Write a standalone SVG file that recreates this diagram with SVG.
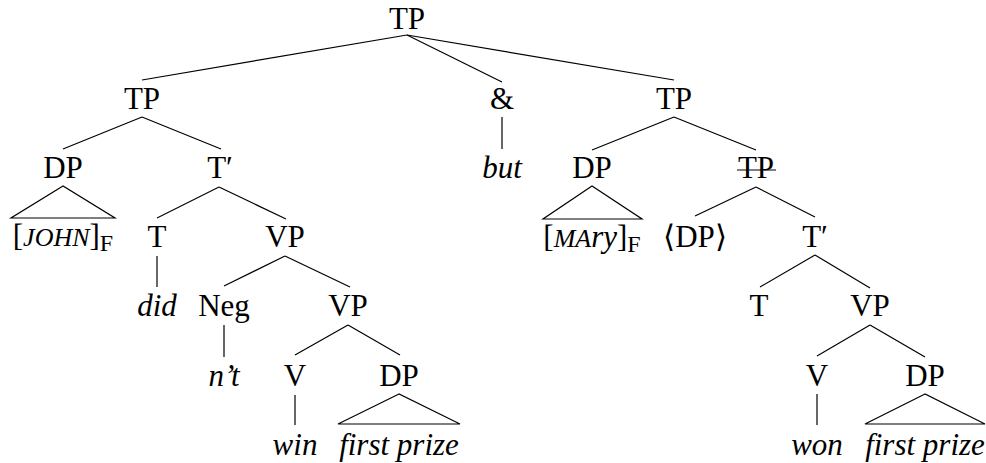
<svg xmlns="http://www.w3.org/2000/svg" width="986" height="463" viewBox="0 0 986 463">
<rect width="986" height="463" fill="#fff"/>
<g id="connectors" stroke="#000" stroke-width="1.2" fill="none">
<line x1="407" y1="35" x2="142" y2="80"/>
<line x1="407" y1="35" x2="502" y2="82"/>
<line x1="407" y1="35" x2="674" y2="80"/>
<line x1="142" y1="117" x2="63" y2="149"/>
<line x1="142" y1="117" x2="221" y2="149"/>
<line x1="502" y1="117" x2="502" y2="149"/>
<line x1="674" y1="117" x2="592" y2="150"/>
<line x1="674" y1="117" x2="756" y2="150"/>
<polygon points="63,186 11,218 115,218"/>
<line x1="219" y1="187" x2="157" y2="218"/>
<line x1="219" y1="187" x2="286" y2="219"/>
<polygon points="592,186 543,219 642,219"/>
<line x1="756" y1="187" x2="695" y2="216"/>
<line x1="756" y1="187" x2="815" y2="217"/>
<line x1="157" y1="256" x2="157" y2="287"/>
<line x1="285" y1="256" x2="224" y2="286"/>
<line x1="285" y1="256" x2="350" y2="287"/>
<line x1="815" y1="255" x2="760" y2="287"/>
<line x1="815" y1="255" x2="870" y2="288"/>
<line x1="224" y1="325" x2="224" y2="357"/>
<line x1="348" y1="325" x2="295" y2="355"/>
<line x1="348" y1="325" x2="400" y2="355"/>
<line x1="870" y1="325" x2="817" y2="356"/>
<line x1="870" y1="325" x2="925" y2="357"/>
<line x1="295" y1="395" x2="295" y2="425"/>
<polygon points="399,394 338,424 460,424"/>
<line x1="817" y1="394" x2="817" y2="425"/>
<polygon points="925,394 865,424 985,424"/>
</g>
<g id="n-tp0"><text x="407" y="29" font-family="Liberation Serif" font-size="31" text-anchor="middle">TP</text></g>
<g id="n-tp1"><text x="142" y="109" font-family="Liberation Serif" font-size="31" text-anchor="middle">TP</text></g>
<g id="n-amp"><text x="502" y="109" font-family="Liberation Serif" font-size="31" text-anchor="middle">&amp;</text></g>
<g id="n-tp2"><text x="674" y="109" font-family="Liberation Serif" font-size="31" text-anchor="middle">TP</text></g>
<g id="n-dp1"><text x="63" y="178" font-family="Liberation Serif" font-size="31" text-anchor="middle">DP</text></g>
<g id="n-tbar1"><text x="220" y="178" font-family="Liberation Serif" font-size="31" text-anchor="middle">T′</text></g>
<g id="n-but"><text x="502" y="178" font-family="Liberation Serif" font-size="31" font-style="italic" text-anchor="middle">but</text></g>
<g id="n-dp2"><text x="592" y="178" font-family="Liberation Serif" font-size="31" text-anchor="middle">DP</text></g>
<g id="n-tp3"><text x="756" y="178" font-family="Liberation Serif" font-size="31" text-anchor="middle">TP</text><line x1="737" y1="170" x2="776" y2="170" stroke="#000" stroke-width="1.2"/></g>
<g id="n-john"><text x="63" y="246" font-family="Liberation Serif" font-size="31" text-anchor="middle">[<tspan font-size="26" font-style="italic">JOHN</tspan>]<tspan font-size="24" dy="5">F</tspan></text></g>
<g id="n-t1"><text x="157" y="247" font-family="Liberation Serif" font-size="31" text-anchor="middle">T</text></g>
<g id="n-vp1"><text x="285" y="247" font-family="Liberation Serif" font-size="31" text-anchor="middle">VP</text></g>
<g id="n-mary"><text x="592" y="247" font-family="Liberation Serif" font-size="31" text-anchor="middle">[<tspan font-size="26" font-style="italic">MA</tspan><tspan font-style="italic">ry</tspan>]<tspan font-size="24" dy="5">F</tspan></text></g>
<g id="n-dptrace"><text x="695" y="247" font-family="Liberation Serif" font-size="31" text-anchor="middle">⟨DP⟩</text></g>
<g id="n-tbar2"><text x="815" y="247" font-family="Liberation Serif" font-size="31" text-anchor="middle">T′</text></g>
<g id="n-did"><text x="157" y="316" font-family="Liberation Serif" font-size="31" font-style="italic" text-anchor="middle">did</text></g>
<g id="n-neg"><text x="224" y="316" font-family="Liberation Serif" font-size="31" text-anchor="middle">Neg</text></g>
<g id="n-vp2"><text x="348" y="316" font-family="Liberation Serif" font-size="31" text-anchor="middle">VP</text></g>
<g id="n-t2"><text x="759" y="316" font-family="Liberation Serif" font-size="31" text-anchor="middle">T</text></g>
<g id="n-vp3"><text x="870" y="316" font-family="Liberation Serif" font-size="31" text-anchor="middle">VP</text></g>
<g id="n-nt"><text x="224" y="386" font-family="Liberation Serif" font-size="31" font-style="italic" text-anchor="middle">n’t</text></g>
<g id="n-v1"><text x="295" y="386" font-family="Liberation Serif" font-size="31" text-anchor="middle">V</text></g>
<g id="n-dp3"><text x="399" y="386" font-family="Liberation Serif" font-size="31" text-anchor="middle">DP</text></g>
<g id="n-v2"><text x="817" y="386" font-family="Liberation Serif" font-size="31" text-anchor="middle">V</text></g>
<g id="n-dp4"><text x="925" y="386" font-family="Liberation Serif" font-size="31" text-anchor="middle">DP</text></g>
<g id="n-win"><text x="295" y="455" font-family="Liberation Serif" font-size="31" font-style="italic" text-anchor="middle">win</text></g>
<g id="n-fp1"><text x="399" y="455" font-family="Liberation Serif" font-size="31" font-style="italic" text-anchor="middle">first prize</text></g>
<g id="n-won"><text x="817" y="455" font-family="Liberation Serif" font-size="31" font-style="italic" text-anchor="middle">won</text></g>
<g id="n-fp2"><text x="925" y="455" font-family="Liberation Serif" font-size="31" font-style="italic" text-anchor="middle">first prize</text></g>
</svg>
